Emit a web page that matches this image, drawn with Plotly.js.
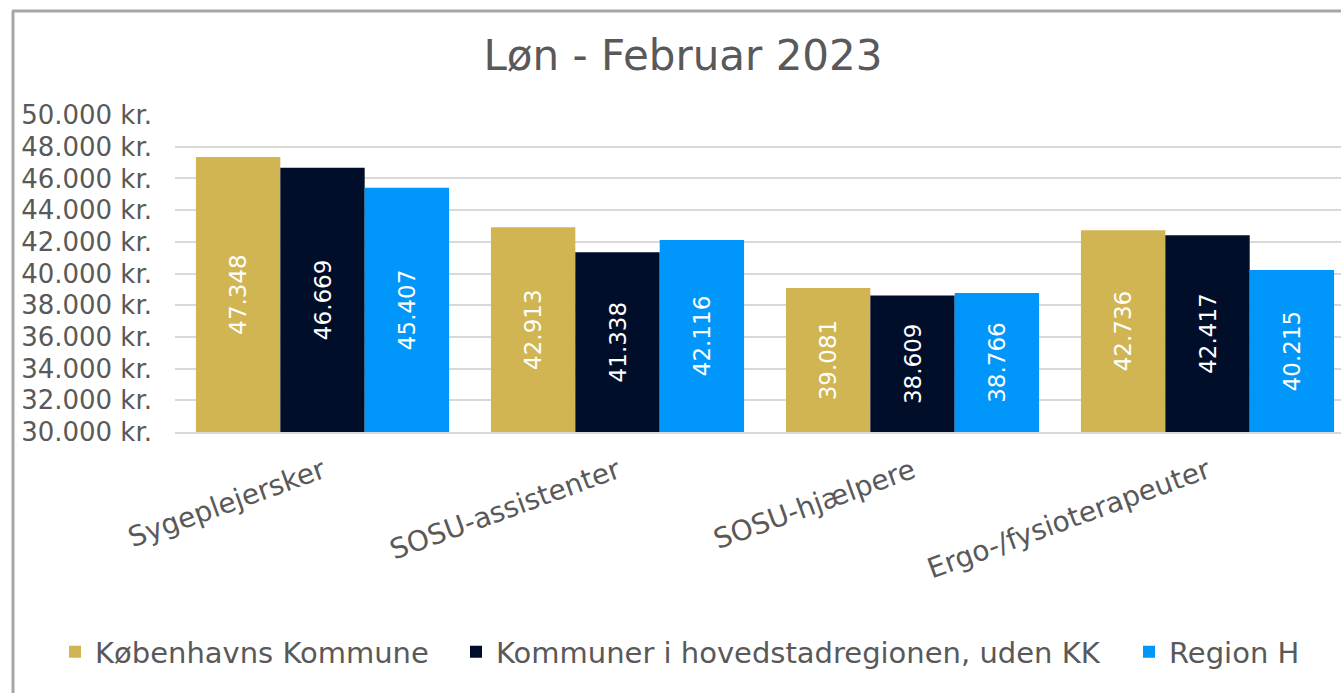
<!DOCTYPE html>
<html>
<head>
<meta charset="utf-8">
<script src="https://cdn.plot.ly/plotly-3.0.1.min.js"></script>
<style>
  html, body { margin: 0; padding: 0; background: #ffffff; overflow: hidden; }
  #chart { width: 1341px; height: 693px; }
</style>
</head>
<body>
<div id="chart"></div>
<script>
const categories = ["Sygeplejersker", "SOSU-assistenter", "SOSU-hjælpere", "Ergo-/fysioterapeuter"];
const seriesNames = ["Københavns Kommune", "Kommuner i hovedstadregionen, uden KK", "Region H"];
const kobenhavn = [47348, 42913, 39081, 42736];
const kommuner = [46669, 41338, 38609, 42417];
const regionH = [45407, 42116, 38766, 40215];
const colors = ["#D0B552", "#010E2A", "#0096FA"];
const axisMin = 30000, axisMax = 50000, axisStep = 2000;

const FONT = "DejaVu Sans, Noto Sans, sans-serif";
const TXT = "#595959";

function fmtDa(v) {
  return String(Math.round(v)).replace(/\B(?=(\d{3})+(?!\d))/g, ".");
}

const legendIds = ["legend", "legend2", "legend3"];
const seriesValues = [kobenhavn, kommuner, regionH];
const traces = seriesValues.map((vals, i) => ({
  type: "bar",
  name: seriesNames[i],
  legend: legendIds[i],
  x: categories,
  base: axisMin,
  y: vals.map(v => v - axisMin),
  marker: { color: colors[i], line: { width: 0 } },
  text: vals.map(fmtDa),
  textposition: "inside",
  insidetextanchor: "middle",
  textangle: -90,
  textfont: { family: FONT, size: 23, color: "#ffffff" },
  hoverinfo: "skip"
}));

const L = 175, T = 115, B = 261, W = 1341, H = 693;
const plotW = W - L, plotH = H - T - B;
const px = x => (x - L) / plotW;
const py = y => (H - B - y) / plotH;

function legendAt(leftPx) {
  return {
    orientation: "h",
    x: px(leftPx), xanchor: "left",
    y: py(652), yanchor: "middle",
    font: { family: FONT, size: 29, color: TXT },
    bgcolor: "rgba(0,0,0,0)",
    borderwidth: 0
  };
}

const layout = {
  width: W, height: H, autosize: false,
  separators: ",.",
  paper_bgcolor: "#ffffff",
  plot_bgcolor: "#ffffff",
  margin: { l: L, r: 0, t: T, b: B, pad: 0, autoexpand: false },
  font: { family: FONT, color: TXT },
  title: {
    text: "Løn - Februar 2023",
    font: { family: FONT, size: 42, color: TXT },
    x: 683 / W, xanchor: "center",
    y: 1 - 55 / H, yanchor: "middle", yref: "container"
  },
  barmode: "group",
  bargap: 0.142,
  bargroupgap: 0,
  xaxis: {
    type: "category",
    range: [-0.5, 3.4525],
    tickangle: -20,
    tickfont: { family: FONT, size: 28, color: TXT },
    showgrid: false,
    showline: true, linecolor: "#d9d9d9", linewidth: 2,
    ticks: "", ticklabelstandoff: 10
  },
  yaxis: {
    range: [axisMin, axisMax],
    dtick: axisStep, tick0: axisMin,
    tickformat: ",.0f",
    ticksuffix: " kr.",
    tickfont: { family: FONT, size: 26, color: TXT },
    showgrid: true, gridcolor: "#d9d9d9", gridwidth: 2,
    zeroline: false, showline: false,
    ticks: "", ticklabelstandoff: 22
  },
  showlegend: true,
  legend: legendAt(55),
  legend2: legendAt(456),
  legend3: legendAt(1129),
  shapes: [
    { type: "line", xref: "paper", yref: "paper",
      x0: px(13), x1: px(13), y0: py(H + 5), y1: py(11),
      line: { color: "#a6a6a6", width: 3 } },
    { type: "line", xref: "paper", yref: "paper",
      x0: px(12), x1: px(W + 5), y0: py(11), y1: py(11),
      line: { color: "#a6a6a6", width: 3 } }
  ]
};

Plotly.newPlot("chart", traces, layout, { staticPlot: true, displayModeBar: false });
</script>
</body>
</html>
